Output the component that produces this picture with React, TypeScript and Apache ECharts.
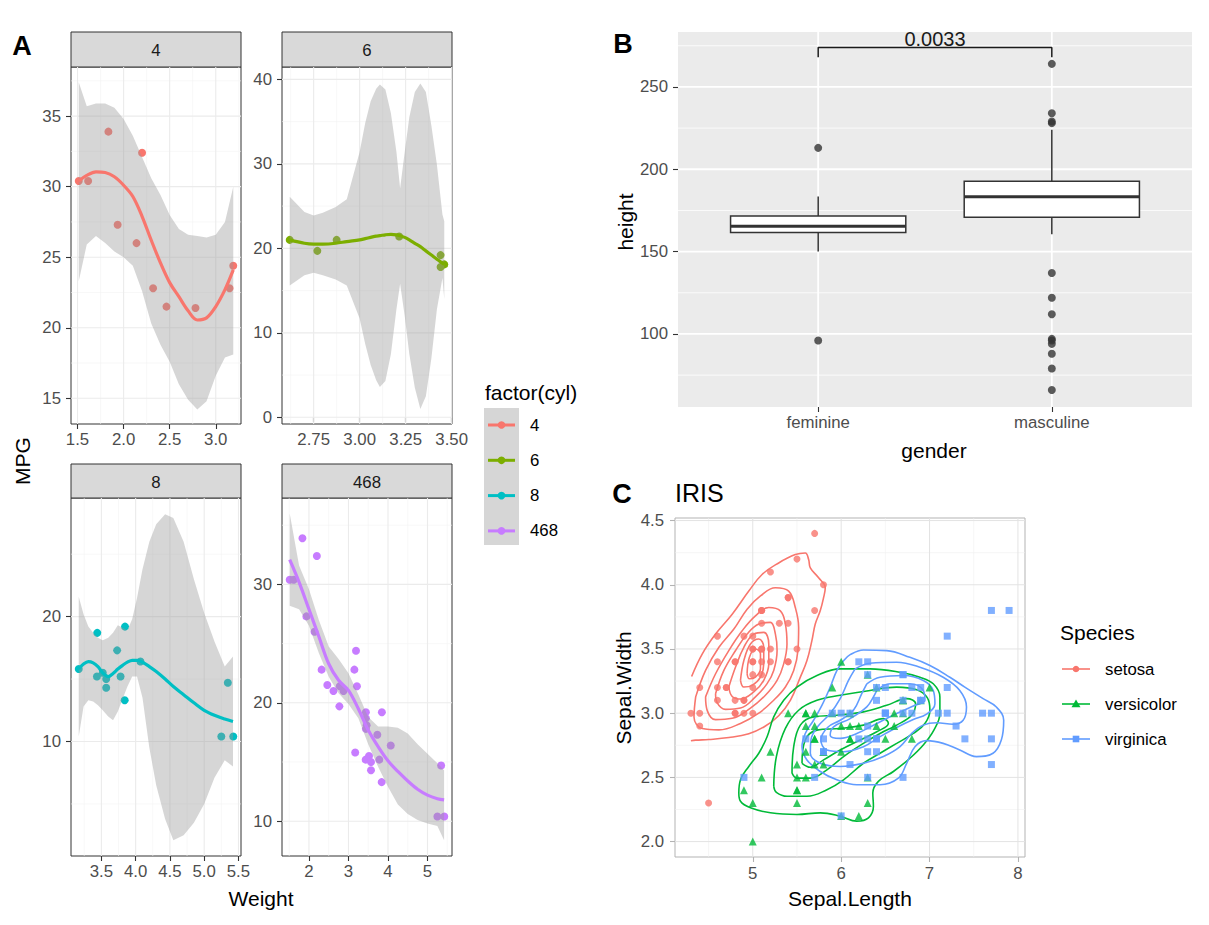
import React, { useEffect, useRef } from "react";
import * as echarts from "echarts";

const FONT = "'Liberation Sans', Arial, Helvetica, sans-serif";
const TXT = "#4D4D4D";
const TICK_FS = 16.8;
const TITLE_FS = 21;

// ---------------- Panel A: mtcars, MPG vs Weight by cylinders ----------------
const wt4 = [2.32, 3.19, 3.15, 2.2, 1.615, 1.835, 2.465, 1.935, 2.14, 1.513, 2.78];
const mpg4 = [22.8, 24.4, 22.8, 32.4, 30.4, 33.9, 21.5, 27.3, 26.0, 30.4, 21.4];
const wt6 = [2.62, 2.875, 3.215, 3.46, 3.44, 3.44, 2.77];
const mpg6 = [21.0, 21.0, 21.4, 18.1, 19.2, 17.8, 19.7];
const wt8 = [3.44, 3.57, 4.07, 3.73, 3.78, 5.25, 5.424, 5.345, 3.52, 3.435, 3.84, 3.845, 3.17, 3.57];
const mpg8 = [18.7, 14.3, 16.4, 17.3, 15.2, 10.4, 10.4, 14.7, 15.5, 15.2, 13.3, 19.2, 15.8, 15.0];
const wtAll = [...wt4, ...wt6, ...wt8];
const mpgAll = [...mpg4, ...mpg6, ...mpg8];

// loess fits and confidence bands
const fitX4 = [1.513, 1.6, 1.7, 1.8, 1.9, 2.0, 2.1, 2.2, 2.3, 2.4, 2.5, 2.6, 2.7, 2.8, 2.9, 3.0, 3.1, 3.19];
const fitY4 = [30.4, 30.8, 31.05, 31.0, 30.7, 30.1, 29.3, 27.9, 26.2, 24.6, 23.2, 22.2, 21.2, 20.55, 20.7, 21.5, 22.7, 24.1];
const lo4 = [23.3, 25.9, 26.5, 26.0, 25.4, 25.0, 24.4, 22.6, 20.3, 18.8, 17.6, 16.0, 14.9, 14.2, 14.8, 16.6, 17.9, 18.1];
const hi4 = [37.4, 35.7, 35.9, 35.9, 35.6, 34.8, 33.6, 32.1, 30.6, 29.4, 28.0, 27.0, 26.6, 26.5, 26.4, 26.6, 27.5, 30.0];

const fitX6 = [2.62, 2.7, 2.75, 2.8, 2.87, 2.93, 3.0, 3.03, 3.06, 3.09, 3.11, 3.14, 3.17, 3.2, 3.22, 3.245, 3.27, 3.3, 3.33, 3.36, 3.39, 3.42, 3.45, 3.46];
const fitY6 = [21.0, 20.6, 20.5, 20.5, 20.6, 20.8, 21.0, 21.15, 21.3, 21.45, 21.5, 21.6, 21.65, 21.6, 21.5, 21.3, 21.0, 20.6, 20.2, 19.7, 19.2, 18.7, 18.25, 18.1];
const lo6 = [15.6, 16.8, 17.1, 16.8, 16.3, 15.6, 11.7, 8.7, 6.2, 4.4, 3.6, 4.3, 7.5, 12.8, 15.8, 12.0, 7.5, 3.5, 1.0, 2.5, 7.0, 12.8, 16.5, 14.0];
const hi6 = [26.1, 24.3, 23.9, 24.2, 24.9, 25.8, 31.4, 34.8, 37.4, 38.9, 39.4, 38.8, 36.0, 31.4, 27.1, 31.4, 35.5, 38.5, 39.5, 38.5, 34.5, 29.9, 24.0, 23.2];

const fitX8 = [3.17, 3.24, 3.31, 3.38, 3.45, 3.52, 3.6, 3.67, 3.74, 3.81, 3.88, 3.95, 4.02, 4.1, 4.2, 4.3, 4.43, 4.55, 4.7, 4.85, 5.0, 5.15, 5.3, 5.42];
const fitY8 = [15.8, 16.2, 16.4, 16.3, 16.0, 15.5, 15.2, 15.45, 15.8, 16.1, 16.35, 16.5, 16.5, 16.35, 16.0, 15.6, 15.0, 14.4, 13.75, 13.1, 12.5, 12.1, 11.8, 11.6];
const lo8 = [10.4, 12.8, 13.3, 13.2, 12.9, 12.5, 12.0, 11.7, 12.4, 13.4, 14.4, 15.2, 15.2, 13.5, 9.5, 6.5, 3.8, 2.1, 2.5, 3.5, 5.0, 7.1, 8.5, 8.0];
const hi8 = [21.6, 20.2, 19.2, 18.7, 18.3, 18.1, 18.3, 18.7, 19.3, 19.1, 18.9, 19.8, 21.5, 23.8, 26.0, 27.4, 28.2, 27.9, 26.0, 23.0, 20.3, 18.0, 16.0, 16.8];

const fitXAll = [1.513, 1.75, 2.0, 2.25, 2.5, 2.75, 3.0, 3.25, 3.5, 3.75, 4.0, 4.25, 4.5, 4.75, 5.0, 5.25, 5.42];
const fitYAll = [32.1, 30.2, 27.9, 25.6, 23.3, 21.9, 21.05, 19.5, 17.7, 16.3, 15.1, 14.2, 13.4, 12.7, 12.2, 11.9, 11.8];
const loAll = [28.2, 27.9, 26.5, 24.2, 22.2, 20.8, 19.9, 18.7, 16.5, 14.6, 12.9, 11.4, 10.6, 10.1, 9.8, 9.6, 8.4];
const hiAll = [36.0, 31.6, 29.6, 27.0, 24.75, 23.7, 22.5, 20.7, 18.8, 18.0, 18.0, 17.9, 17.4, 16.5, 15.7, 14.9, 14.3];

// axis limits and breaks per facet
const xLim4 = [1.429, 3.274], yLim4 = [13.18, 38.48];
const xLim6 = [2.578, 3.502], yLim6 = [-0.79, 41.46];
const xLim8 = [3.057, 5.537], yLim8 = [0.83, 29.5];
const xLimAll = [1.318, 5.62], yLimAll = [7.06, 37.3];
const xMaj4 = [1.5, 2.0, 2.5, 3.0], xMin4 = [1.75, 2.25, 2.75, 3.25];
const yMaj4 = [15, 20, 25, 30, 35], yMin4 = [17.5, 22.5, 27.5, 32.5, 37.5];
const xMaj6 = [2.75, 3.0, 3.25, 3.5], xMin6 = [2.625, 2.875, 3.125, 3.375];
const yMaj6 = [0, 10, 20, 30, 40], yMin6 = [5, 15, 25, 35];
const xMaj8 = [3.5, 4.0, 4.5, 5.0, 5.5], xMin8 = [3.25, 3.75, 4.25, 4.75, 5.25];
const yMaj8 = [10, 20], yMin8 = [5, 15, 25];
const xMajAll = [2, 3, 4, 5], xMinAll = [1.5, 2.5, 3.5, 4.5, 5.5];
const yMajAll = [10, 20, 30], yMinAll = [15, 25, 35];
const cylLevels = ["4", "6", "8", "468"];

// ---------------- Panel B: starwars height by gender ----------------
const bCats = ["feminine", "masculine"];
const bLow = [150, 160.6];
const bQ1 = [161.6, 170.9];
const bMed = [165.4, 183.3];
const bQ3 = [171.7, 192.7];
const bHigh = [183.5, 224];
const femOut = [213, 96];
const mascOut = [264, 234, 229, 228, 137, 122, 112, 97, 96, 94, 88, 79, 66];
const bracketX = [1, 1, 2, 2];
const bracketY = [268, 274, 274, 268];
const pLabel = "0.0033";
const pLabelY = 274.5;
const bXLim = [0.4, 2.6], bYLim = [55.65, 283.35];
const bYMaj = [100, 150, 200, 250], bYMin = [75, 125, 175, 225, 275];
const bXMaj = [1, 2];

// ---------------- Panel C: iris ----------------
const setosaL = [5.1, 4.9, 4.7, 4.6, 5.0, 5.4, 4.6, 5.0, 4.4, 4.9, 5.4, 4.8, 4.8, 4.3, 5.8, 5.7, 5.4, 5.1, 5.7, 5.1, 5.4, 5.1, 4.6, 5.1, 4.8, 5.0, 5.0, 5.2, 5.2, 4.7, 4.8, 5.4, 5.2, 5.5, 4.9, 5.0, 5.5, 4.9, 4.4, 5.1, 5.0, 4.5, 4.4, 5.0, 5.1, 4.8, 5.1, 4.6, 5.3, 5.0];
const setosaW = [3.5, 3.0, 3.2, 3.1, 3.6, 3.9, 3.4, 3.4, 2.9, 3.1, 3.7, 3.4, 3.0, 3.0, 4.0, 4.4, 3.9, 3.5, 3.8, 3.8, 3.4, 3.7, 3.6, 3.3, 3.4, 3.0, 3.4, 3.5, 3.4, 3.2, 3.1, 3.4, 4.1, 4.2, 3.1, 3.2, 3.5, 3.6, 3.0, 3.4, 3.5, 2.3, 3.2, 3.5, 3.8, 3.0, 3.8, 3.2, 3.7, 3.3];
const versiL = [7.0, 6.4, 6.9, 5.5, 6.5, 5.7, 6.3, 4.9, 6.6, 5.2, 5.0, 5.9, 6.0, 6.1, 5.6, 6.7, 5.6, 5.8, 6.2, 5.6, 5.9, 6.1, 6.3, 6.1, 6.4, 6.6, 6.8, 6.7, 6.0, 5.7, 5.5, 5.5, 5.8, 6.0, 5.4, 6.0, 6.7, 6.3, 5.6, 5.5, 5.5, 6.1, 5.8, 5.0, 5.6, 5.7, 5.7, 6.2, 5.1, 5.7];
const versiW = [3.2, 3.2, 3.1, 2.3, 2.8, 2.8, 3.3, 2.4, 2.9, 2.7, 2.0, 3.0, 2.2, 2.9, 2.9, 3.1, 3.0, 2.7, 2.2, 2.5, 3.2, 2.8, 2.5, 2.8, 2.9, 3.0, 2.8, 3.0, 2.9, 2.6, 2.4, 2.4, 2.7, 2.7, 3.0, 3.4, 3.1, 2.3, 3.0, 2.5, 2.6, 3.0, 2.6, 2.3, 2.7, 3.0, 2.9, 2.9, 2.5, 2.8];
const virgL = [6.3, 5.8, 7.1, 6.3, 6.5, 7.6, 4.9, 7.3, 6.7, 7.2, 6.5, 6.4, 6.8, 5.7, 5.8, 6.4, 6.5, 7.7, 7.7, 6.0, 6.9, 5.6, 7.7, 6.3, 6.7, 7.2, 6.2, 6.1, 6.4, 7.2, 7.4, 7.9, 6.4, 6.3, 6.1, 7.7, 6.3, 6.4, 6.0, 6.9, 6.7, 6.9, 5.8, 6.8, 6.7, 6.7, 6.3, 6.5, 6.2, 5.9];
const virgW = [3.3, 2.7, 3.0, 2.9, 3.0, 3.0, 2.5, 2.9, 2.5, 3.6, 3.2, 2.7, 3.0, 2.5, 2.8, 3.2, 3.0, 3.8, 2.6, 2.2, 3.2, 2.8, 2.8, 2.7, 3.3, 3.2, 2.8, 3.0, 2.8, 3.0, 2.8, 3.8, 2.8, 2.8, 2.6, 3.0, 3.4, 3.1, 3.0, 3.1, 3.1, 3.1, 2.7, 3.2, 3.3, 3.0, 2.5, 3.0, 3.4, 3.0];

// density contours
const setosaC1 = [[4.308, 3.286], [4.429, 3.462], [4.579, 3.616], [4.767, 3.771], [4.955, 3.951], [5.105, 4.08], [5.293, 4.17], [5.481, 4.235], [5.594, 4.248], [5.632, 4.196], [5.651, 4.132], [5.745, 4.054], [5.82, 3.977], [5.801, 3.9], [5.763, 3.797], [5.707, 3.694], [5.669, 3.565], [5.613, 3.41], [5.538, 3.281], [5.425, 3.1], [5.293, 2.98], [5.143, 2.9], [4.955, 2.84], [4.73, 2.81], [4.504, 2.795], [4.354, 2.79], [4.3, 2.785]];
const setosaC2 = [[4.354, 3.127], [4.466, 3.333], [4.617, 3.513], [4.786, 3.655], [4.936, 3.81], [5.087, 3.913], [5.256, 3.977], [5.406, 3.951], [5.481, 3.823], [5.519, 3.668], [5.511, 3.488], [5.463, 3.333], [5.369, 3.204], [5.237, 3.101], [5.068, 3.0], [4.861, 2.92], [4.617, 2.87], [4.429, 2.88], [4.335, 2.97]];
const setosaC3 = [[4.466, 3.127], [4.579, 3.307], [4.729, 3.488], [4.88, 3.642], [5.03, 3.758], [5.181, 3.823], [5.312, 3.797], [5.369, 3.694], [5.387, 3.539], [5.35, 3.384], [5.275, 3.256], [5.143, 3.14], [4.974, 3.04], [4.767, 2.96], [4.579, 2.95], [4.485, 3.02]];
const setosaC4 = [[4.579, 3.152], [4.673, 3.333], [4.805, 3.488], [4.936, 3.616], [5.068, 3.694], [5.199, 3.707], [5.256, 3.616], [5.275, 3.488], [5.237, 3.333], [5.162, 3.23], [5.03, 3.127], [4.861, 3.04], [4.692, 3.03], [4.598, 3.08]];
const setosaC5 = [[4.729, 3.204], [4.805, 3.359], [4.899, 3.513], [5.011, 3.616], [5.124, 3.629], [5.181, 3.539], [5.181, 3.384], [5.124, 3.256], [5.011, 3.165], [4.861, 3.11], [4.767, 3.13]];
const setosaC6 = [[4.861, 3.256], [4.899, 3.41], [4.974, 3.539], [5.068, 3.578], [5.124, 3.513], [5.124, 3.384], [5.087, 3.281], [4.993, 3.217], [4.899, 3.204]];
const setosaC7 = [[4.936, 3.307], [4.962, 3.436], [5.03, 3.5], [5.087, 3.462], [5.087, 3.346], [5.03, 3.281], [4.962, 3.268]];
const versiC1 = [[4.842, 2.378], [4.861, 2.482], [4.955, 2.585], [5.068, 2.688], [5.162, 2.817], [5.237, 2.971], [5.35, 3.1], [5.5, 3.203], [5.726, 3.293], [5.989, 3.345], [6.327, 3.345], [6.666, 3.319], [6.891, 3.28], [7.042, 3.229], [7.117, 3.126], [7.117, 2.997], [7.049, 2.868], [6.929, 2.752], [6.778, 2.649], [6.591, 2.546], [6.421, 2.469], [6.358, 2.378], [6.365, 2.275], [6.309, 2.185], [6.177, 2.159], [5.989, 2.198], [5.764, 2.224], [5.5, 2.211], [5.2, 2.224], [4.974, 2.263], [4.861, 2.314]];
const versiC2 = [[5.237, 2.43], [5.267, 2.662], [5.369, 2.881], [5.519, 3.023], [5.726, 3.1], [5.989, 3.139], [6.327, 3.177], [6.628, 3.203], [6.854, 3.183], [6.974, 3.121], [7.004, 3.023], [6.948, 2.92], [6.816, 2.842], [6.628, 2.765], [6.44, 2.688], [6.252, 2.61], [6.027, 2.481], [5.839, 2.404], [5.613, 2.353], [5.388, 2.353], [5.267, 2.384]];
const versiC3 = [[5.444, 2.533], [5.463, 2.739], [5.538, 2.907], [5.688, 2.971], [5.951, 2.984], [6.252, 3.01], [6.515, 3.061], [6.741, 3.113], [6.842, 3.074], [6.797, 2.984], [6.628, 2.907], [6.44, 2.842], [6.252, 2.765], [6.027, 2.662], [5.839, 2.559], [5.651, 2.494], [5.5, 2.494]];
const versiC4 = [[5.557, 2.61], [5.594, 2.791], [5.726, 2.868], [5.989, 2.881], [6.252, 2.907], [6.478, 2.958], [6.534, 2.92], [6.403, 2.855], [6.214, 2.791], [5.989, 2.713], [5.801, 2.636], [5.651, 2.579]];
const virgC1 = [[6.027, 3.409], [6.102, 3.456], [6.252, 3.492], [6.515, 3.487], [6.778, 3.435], [7.004, 3.371], [7.23, 3.28], [7.399, 3.203], [7.606, 3.113], [7.756, 3.048], [7.839, 2.945], [7.812, 2.791], [7.718, 2.688], [7.53, 2.662], [7.342, 2.713], [7.154, 2.765], [6.966, 2.786], [6.835, 2.739], [6.741, 2.61], [6.647, 2.494], [6.44, 2.443], [6.177, 2.443], [5.951, 2.481], [5.764, 2.546], [5.613, 2.636], [5.557, 2.739], [5.594, 2.842], [5.688, 2.945], [5.782, 3.061], [5.876, 3.203], [5.951, 3.332]];
const virgC2 = [[6.158, 3.345], [6.327, 3.389], [6.628, 3.397], [6.891, 3.358], [7.154, 3.28], [7.342, 3.177], [7.418, 3.049], [7.38, 2.945], [7.267, 2.914], [7.079, 2.925], [6.929, 2.907], [6.797, 2.842], [6.666, 2.739], [6.478, 2.662], [6.252, 2.61], [5.989, 2.585], [5.764, 2.61], [5.651, 2.688], [5.658, 2.791], [5.733, 2.894], [5.876, 2.997], [5.989, 3.113], [6.083, 3.255]];
const virgC3 = [[6.29, 3.229], [6.44, 3.28], [6.703, 3.293], [6.929, 3.255], [7.042, 3.177], [7.061, 3.074], [6.966, 2.992], [6.816, 2.951], [6.628, 2.889], [6.44, 2.817], [6.252, 2.739], [6.027, 2.7], [5.839, 2.713], [5.771, 2.791], [5.846, 2.889], [5.989, 2.945], [6.139, 3.023], [6.233, 3.152]];
const virgC4 = [[6.403, 3.177], [6.553, 3.229], [6.778, 3.229], [6.929, 3.177], [6.948, 3.1], [6.835, 3.061], [6.628, 2.997], [6.403, 2.92], [6.177, 2.842], [5.989, 2.804], [5.876, 2.829], [5.914, 2.894], [6.102, 2.958], [6.29, 3.049], [6.365, 3.126]];
const speciesNames = ["setosa", "versicolor", "virginica"];
const cXLim = [4.12, 8.08], cYLim = [1.88, 4.52];
const cXMaj = [5, 6, 7, 8], cXMin = [4.5, 5.5, 6.5, 7.5];
const cYMaj = [2.0, 2.5, 3.0, 3.5, 4.0, 4.5], cYMin = [2.25, 2.75, 3.25, 3.75, 4.25];

// ---------------- layout ----------------
const HUE4 = ["#F8766D", "#7CAE00", "#00BFC4", "#C77CFF"];
const HUE3 = ["#F8766D", "#00BA38", "#619CFF"];
const GRIDS = [
  { left: 71, top: 67, width: 170, height: 357 },
  { left: 282, top: 67, width: 170, height: 357 },
  { left: 71, top: 498, width: 170, height: 358 },
  { left: 282, top: 498, width: 170, height: 358 },
  { left: 678, top: 32, width: 514, height: 375 },
  { left: 675, top: 518, width: 350, height: 339 },
];

function inRange(vals: number[], lim: number[]) {
  return vals.filter((v) => v >= lim[0] && v <= lim[1]);
}

function gridLines(gi: number, xlim: number[], ylim: number[], xMaj: number[], xMin: number[], yMaj: number[], yMin: number[], cMaj: string, cMin: string, wMaj: number, wMin: number) {
  return {
    type: "custom",
    xAxisIndex: gi,
    yAxisIndex: gi,
    silent: true,
    z: 1,
    data: [[xlim[0], ylim[0]]],
    renderItem: (params: any, api: any) => {
      const cs = params.coordSys;
      const ch: any[] = [];
      const v = (val: number, c: string, w: number) => {
        const p = api.coord([val, ylim[0]])[0];
        ch.push({ type: "line", shape: { x1: p, y1: cs.y, x2: p, y2: cs.y + cs.height }, style: { stroke: c, lineWidth: w } });
      };
      const h = (val: number, c: string, w: number) => {
        const p = api.coord([xlim[0], val])[1];
        ch.push({ type: "line", shape: { x1: cs.x, y1: p, x2: cs.x + cs.width, y2: p }, style: { stroke: c, lineWidth: w } });
      };
      inRange(xMin, xlim).forEach((x) => v(x, cMin, wMin));
      inRange(yMin, ylim).forEach((y) => h(y, cMin, wMin));
      inRange(xMaj, xlim).forEach((x) => v(x, cMaj, wMaj));
      inRange(yMaj, ylim).forEach((y) => h(y, cMaj, wMaj));
      return { type: "group", children: ch };
    },
  };
}

function axisFor(dim: "x" | "y", gi: number, lim: number[], major: number[], fmt: (v: number) => string, tickColor: string, margin: number) {
  return {
    type: "value",
    gridIndex: gi,
    min: lim[0],
    max: lim[1],
    axisLine: { show: false },
    splitLine: { show: false },
    axisTick: { show: true, length: 5, lineStyle: { color: tickColor, width: 1.1 }, customValues: major },
    axisLabel: {
      show: true,
      customValues: major,
      formatter: (v: number) => fmt(v),
      color: TXT,
      fontSize: TICK_FS,
      fontFamily: FONT,
      margin,
    },
  };
}

function bandSeries(gi: number, xs: number[], lo: number[], hi: number[]) {
  return {
    type: "custom",
    xAxisIndex: gi,
    yAxisIndex: gi,
    silent: true,
    z: 3,
    data: [[xs[0], lo[0]]],
    renderItem: (params: any, api: any) => {
      const top = xs.map((x, i) => api.coord([x, hi[i]]));
      const bot = xs.map((x, i) => api.coord([x, lo[i]])).reverse();
      return { type: "polygon", shape: { points: top.concat(bot) }, style: { fill: "rgba(153,153,153,0.4)" } };
    },
  };
}

function buildOption() {
  const facets = [
    { wt: wt4, mpg: mpg4, fx: fitX4, fy: fitY4, lo: lo4, hi: hi4, xl: xLim4, yl: yLim4, xM: xMaj4, xm: xMin4, yM: yMaj4, ym: yMin4, xd: 1 },
    { wt: wt6, mpg: mpg6, fx: fitX6, fy: fitY6, lo: lo6, hi: hi6, xl: xLim6, yl: yLim6, xM: xMaj6, xm: xMin6, yM: yMaj6, ym: yMin6, xd: 2 },
    { wt: wt8, mpg: mpg8, fx: fitX8, fy: fitY8, lo: lo8, hi: hi8, xl: xLim8, yl: yLim8, xM: xMaj8, xm: xMin8, yM: yMaj8, ym: yMin8, xd: 1 },
    { wt: wtAll, mpg: mpgAll, fx: fitXAll, fy: fitYAll, lo: loAll, hi: hiAll, xl: xLimAll, yl: yLimAll, xM: xMajAll, xm: xMinAll, yM: yMajAll, ym: yMinAll, xd: 0 },
  ];

  const grid: any[] = GRIDS.map((g, i) => ({
    ...g,
    show: true,
    backgroundColor: i === 4 ? "#EBEBEB" : "#FFFFFF",
    borderColor: i < 4 ? "#333333" : i === 5 ? "#B3B3B3" : "transparent",
    borderWidth: i === 4 ? 0 : 1,
    containLabel: false,
  }));

  const xAxis: any[] = [];
  const yAxis: any[] = [];
  const series: any[] = [];

  facets.forEach((f, i) => {
    xAxis.push(axisFor("x", i, f.xl, f.xM, (v) => v.toFixed(f.xd), "#333333", 7));
    yAxis.push(axisFor("y", i, f.yl, f.yM, (v) => v.toFixed(0), "#333333", 10));
    series.push(gridLines(i, f.xl, f.yl, f.xM, f.xm, f.yM, f.ym, "#EBEBEB", "#F4F4F4", 1.1, 0.6));
    series.push({
      type: "scatter",
      xAxisIndex: i,
      yAxisIndex: i,
      z: 2,
      symbolSize: 8,
      itemStyle: { color: HUE4[i], opacity: 1 },
      data: f.wt.map((w, k) => [w, f.mpg[k]]),
    });
    series.push(bandSeries(i, f.fx, f.lo, f.hi));
    series.push({
      type: "line",
      xAxisIndex: i,
      yAxisIndex: i,
      z: 4,
      smooth: 0.35,
      showSymbol: false,
      symbol: "none",
      lineStyle: { color: HUE4[i], width: 3.2 },
      data: f.fx.map((x, k) => [x, f.fy[k]]),
    });
  });

  // Panel B
  xAxis.push(axisFor("x", 4, bXLim, bXMaj, (v) => bCats[Math.round(v) - 1] ?? "", "#333333", 7));
  yAxis.push(axisFor("y", 4, bYLim, bYMaj, (v) => v.toFixed(0), "#333333", 10));
  series.push(gridLines(4, bXLim, bYLim, bXMaj, [], bYMaj, bYMin, "#FFFFFF", "#FFFFFF", 1.8, 0.8));
  series.push({
    type: "custom",
    xAxisIndex: 4,
    yAxisIndex: 4,
    z: 3,
    data: bCats.map((_, i) => [i + 1, bMed[i]]),
    renderItem: (params: any, api: any) => {
      const i = params.dataIndex;
      const xv = i + 1;
      const xc = api.coord([xv, bMed[i]])[0];
      const hw = api.size([0.75, 0])[0] / 2;
      const yL = api.coord([xv, bLow[i]])[1];
      const y1 = api.coord([xv, bQ1[i]])[1];
      const ym = api.coord([xv, bMed[i]])[1];
      const y3 = api.coord([xv, bQ3[i]])[1];
      const yH = api.coord([xv, bHigh[i]])[1];
      const st = { stroke: "#333333", lineWidth: 1.5 };
      return {
        type: "group",
        children: [
          { type: "line", shape: { x1: xc, y1: yH, x2: xc, y2: y3 }, style: st },
          { type: "line", shape: { x1: xc, y1: y1, x2: xc, y2: yL }, style: st },
          { type: "rect", shape: { x: xc - hw, y: y3, width: 2 * hw, height: y1 - y3 }, style: { fill: "#FFFFFF", stroke: "#333333", lineWidth: 1.5 } },
          { type: "line", shape: { x1: xc - hw, y1: ym, x2: xc + hw, y2: ym }, style: { stroke: "#333333", lineWidth: 3 } },
        ],
      };
    },
  });
  series.push({
    type: "scatter",
    xAxisIndex: 4,
    yAxisIndex: 4,
    z: 4,
    symbolSize: 8,
    itemStyle: { color: "#333333" },
    data: [...femOut.map((v) => [1, v]), ...mascOut.map((v) => [2, v])],
  });
  series.push({
    type: "line",
    xAxisIndex: 4,
    yAxisIndex: 4,
    z: 5,
    showSymbol: false,
    symbol: "none",
    lineStyle: { color: "#1A1A1A", width: 1.5 },
    data: bracketX.map((x, k) => [x, bracketY[k]]),
  });
  series.push({
    type: "custom",
    xAxisIndex: 4,
    yAxisIndex: 4,
    z: 6,
    data: [[(bracketX[0] + bracketX[3]) / 2, pLabelY]],
    renderItem: (params: any, api: any) => {
      const p = api.coord([(bracketX[0] + bracketX[3]) / 2, pLabelY]);
      return {
        type: "text",
        x: p[0],
        y: p[1] + 2,
        style: { text: pLabel, fontSize: 20, fontFamily: FONT, fill: "#1A1A1A", align: "center", verticalAlign: "bottom" },
      };
    },
  });

  // Panel C
  xAxis.push(axisFor("x", 5, cXLim, cXMaj, (v) => v.toFixed(0), "#B3B3B3", 8));
  yAxis.push(axisFor("y", 5, cYLim, cYMaj, (v) => v.toFixed(1), "#B3B3B3", 11));
  series.push(gridLines(5, cXLim, cYLim, cXMaj, cXMin, cYMaj, cYMin, "#E3E3E3", "#F0F0F0", 1.0, 0.6));
  const contours: [number[][], number, boolean][] = [
    [setosaC1, 0, false], [setosaC2, 0, true], [setosaC3, 0, true], [setosaC4, 0, true], [setosaC5, 0, true], [setosaC6, 0, true], [setosaC7, 0, true],
    [versiC1, 1, true], [versiC2, 1, true], [versiC3, 1, true], [versiC4, 1, true],
    [virgC1, 2, true], [virgC2, 2, true], [virgC3, 2, true], [virgC4, 2, true],
  ];
  contours.forEach(([pts, s, closed]) => {
    series.push({
      type: "line",
      xAxisIndex: 5,
      yAxisIndex: 5,
      z: 2,
      smooth: 0.4,
      showSymbol: false,
      symbol: "none",
      lineStyle: { color: HUE3[s], width: 1.6 },
      data: closed ? [...pts, pts[0]] : pts,
    });
  });
  const irisPts: [number[], number[], string, number][] = [
    [setosaL, setosaW, "circle", 7],
    [versiL, versiW, "triangle", 8],
    [virgL, virgW, "rect", 7],
  ];
  irisPts.forEach(([xs, ys, sym, size], s) => {
    series.push({
      type: "scatter",
      xAxisIndex: 5,
      yAxisIndex: 5,
      z: 3,
      symbol: sym,
      symbolSize: size,
      itemStyle: { color: HUE3[s] },
      data: xs.map((x, k) => [x, ys[k]]),
    });
  });

  // ---------- graphic: strips, titles, tags, legends ----------
  const graphic: any[] = [];
  const txt = (text: string, x: number, y: number, size: number, opts: any = {}) => ({
    type: "text",
    x,
    y,
    rotation: opts.rotation ?? 0,
    style: {
      text,
      fontSize: size,
      fontFamily: FONT,
      fontWeight: opts.bold ? "bold" : "normal",
      fill: opts.fill ?? "#000000",
      align: opts.align ?? "center",
      verticalAlign: "middle",
    },
  });
  cylLevels.forEach((lab, i) => {
    const g = GRIDS[i];
    const stripTop = i < 2 ? 32 : 464;
    graphic.push({ type: "rect", shape: { x: g.left, y: stripTop, width: g.width, height: g.top - stripTop }, style: { fill: "#D9D9D9", stroke: "#333333", lineWidth: 1 } });
    graphic.push(txt(lab, g.left + g.width / 2, stripTop + (g.top - stripTop) / 2 + 1, TICK_FS, { fill: "#1A1A1A" }));
  });
  graphic.push(txt("A", 22, 46, 27, { bold: true }));
  graphic.push(txt("B", 623, 44, 27, { bold: true }));
  graphic.push(txt("C", 622, 494, 27, { bold: true }));
  graphic.push(txt("MPG", 22, 461, TITLE_FS, { rotation: Math.PI / 2 }));
  graphic.push(txt("Weight", 261, 898, TITLE_FS));
  graphic.push(txt("height", 625, 222, TITLE_FS, { rotation: Math.PI / 2 }));
  graphic.push(txt("gender", 934, 450, TITLE_FS));
  graphic.push(txt("Sepal.Width", 623, 688, TITLE_FS, { rotation: Math.PI / 2 }));
  graphic.push(txt("Sepal.Length", 850, 898, TITLE_FS));
  graphic.push(txt("IRIS", 675, 493, 25, { align: "left" }));

  // legend A
  graphic.push(txt("factor(cyl)", 485, 392, TITLE_FS, { align: "left" }));
  graphic.push({ type: "rect", shape: { x: 484, y: 408, width: 35, height: 137 }, style: { fill: "#D6D6D6" } });
  cylLevels.forEach((lab, i) => {
    const y = 425 + i * 35.3;
    graphic.push({ type: "line", shape: { x1: 488, y1: y, x2: 515, y2: y }, style: { stroke: HUE4[i], lineWidth: 3 } });
    graphic.push({ type: "circle", shape: { cx: 501.5, cy: y, r: 3.8 }, style: { fill: HUE4[i] } });
    graphic.push(txt(lab, 530, y, TICK_FS, { align: "left" }));
  });

  // legend C
  graphic.push(txt("Species", 1060, 632, TITLE_FS, { align: "left" }));
  speciesNames.forEach((lab, i) => {
    const y = 669 + i * 35;
    graphic.push({ type: "line", shape: { x1: 1062, y1: y, x2: 1090, y2: y }, style: { stroke: HUE3[i], lineWidth: 1.6 } });
    if (i === 0) graphic.push({ type: "circle", shape: { cx: 1076, cy: y, r: 3.3 }, style: { fill: HUE3[i] } });
    if (i === 1) graphic.push({ type: "polygon", shape: { points: [[1076, y - 4.5], [1080.5, y + 3.2], [1071.5, y + 3.2]] }, style: { fill: HUE3[i] } });
    if (i === 2) graphic.push({ type: "rect", shape: { x: 1072.7, y: y - 3.3, width: 6.6, height: 6.6 }, style: { fill: HUE3[i] } });
    graphic.push(txt(lab, 1105, y, TICK_FS, { align: "left" }));
  });

  return {
    animation: false,
    backgroundColor: "#FFFFFF",
    textStyle: { fontFamily: FONT },
    grid,
    xAxis,
    yAxis,
    series,
    graphic,
  };
}

export default function App() {
  const ref = useRef<HTMLDivElement>(null);
  useEffect(() => {
    document.body.style.margin = "0";
    const chart = echarts.init(ref.current!, null, { renderer: "svg" });
    chart.setOption(buildOption() as any);
    return () => chart.dispose();
  }, []);
  return <div ref={ref} style={{ width: 1209, height: 925 }} />;
}
